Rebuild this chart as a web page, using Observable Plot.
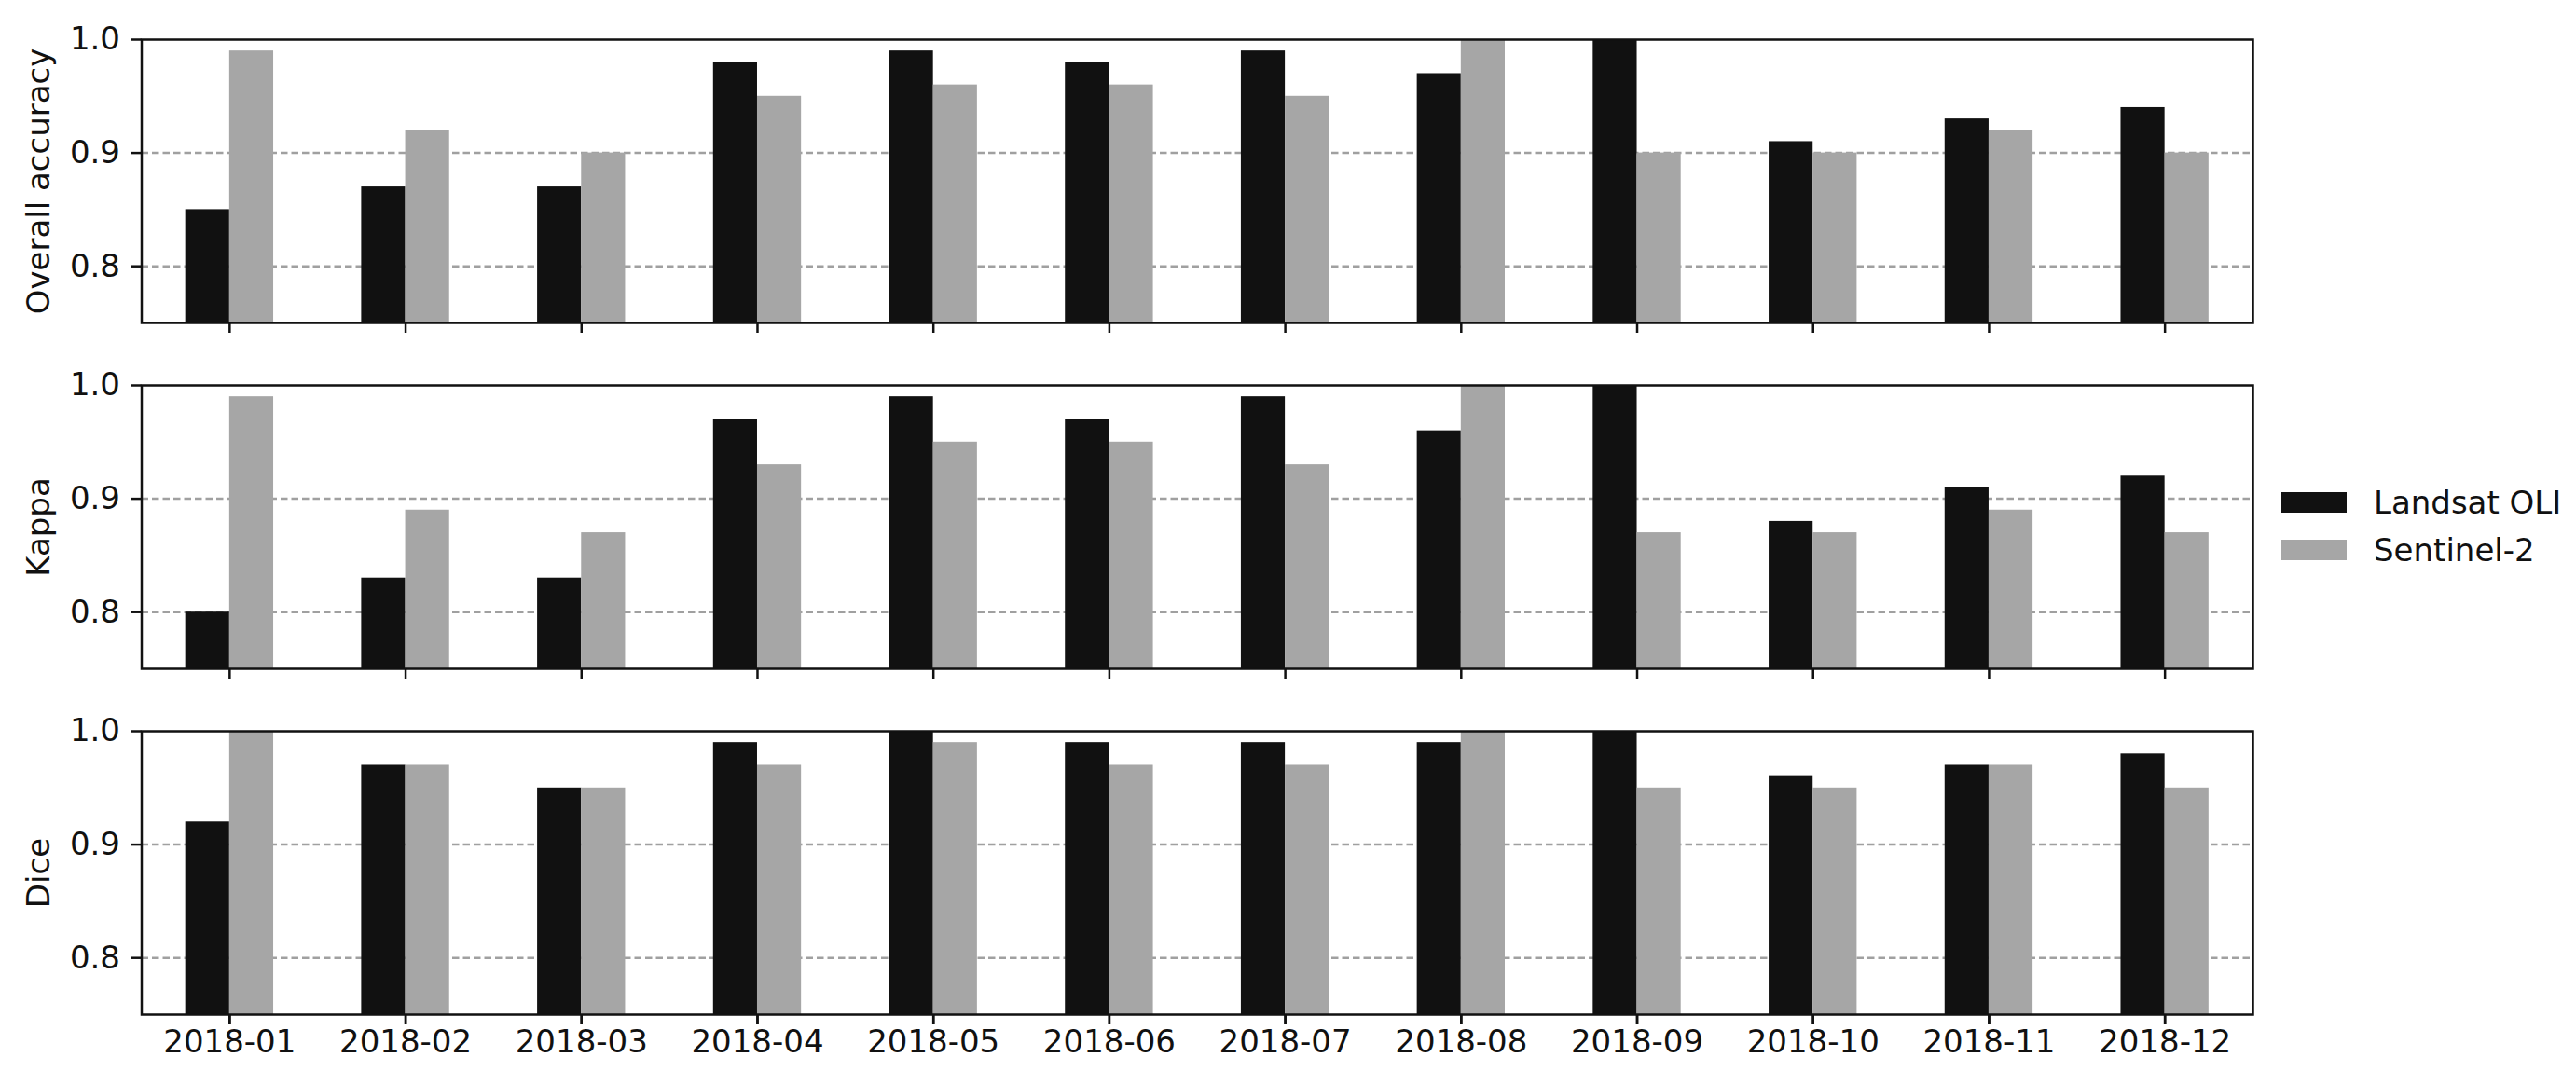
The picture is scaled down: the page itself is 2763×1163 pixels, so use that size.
<!DOCTYPE html>
<html><head><meta charset="utf-8">
<script src="https://cdn.jsdelivr.net/npm/d3@7"></script>
<script src="https://cdn.jsdelivr.net/npm/@observablehq/plot@0.6"></script>
<style>
html,body{margin:0;padding:0;background:#fff;}
#wrap{position:relative;width:2763px;height:1163px;font-family:"DejaVu Sans",sans-serif;}
#legend{position:absolute;left:2447px;top:513px;font-size:34px;color:#111;font-family:"DejaVu Sans",sans-serif;}
.item{display:flex;align-items:center;height:51px;}
.sw{width:70px;height:22px;margin-right:29px;}
</style></head><body>
<div id="wrap"><div id="chart"></div><div id="legend"></div></div>
<script>
const months = ["2018-01","2018-02","2018-03","2018-04","2018-05","2018-06","2018-07","2018-08","2018-09","2018-10","2018-11","2018-12"];
const metrics = ["Overall accuracy","Kappa","Dice"];
const seriesNames = ["Landsat OLI","Sentinel-2"];
const seriesColors = ["#111111","#a6a6a6"];
const overallLandsat  = [0.85,0.87,0.87,0.98,0.99,0.98,0.99,0.97,1.00,0.91,0.93,0.94];
const overallSentinel = [0.99,0.92,0.90,0.95,0.96,0.96,0.95,1.00,0.90,0.90,0.92,0.90];
const kappaLandsat    = [0.80,0.83,0.83,0.97,0.99,0.97,0.99,0.96,1.00,0.88,0.91,0.92];
const kappaSentinel   = [0.99,0.89,0.87,0.93,0.95,0.95,0.93,1.00,0.87,0.87,0.89,0.87];
const diceLandsat     = [0.92,0.97,0.95,0.99,1.00,0.99,0.99,0.99,1.00,0.96,0.97,0.98];
const diceSentinel    = [1.00,0.97,0.95,0.97,0.99,0.97,0.97,1.00,0.95,0.95,0.97,0.95];
const yTicks = [0.8, 0.9, 1.0];
const gridTicks = [0.8, 0.9];
const yDomain = [0.75, 1.0];

const seriesByMetric = {
  "Overall accuracy": [overallLandsat, overallSentinel],
  "Kappa": [kappaLandsat, kappaSentinel],
  "Dice": [diceLandsat, diceSentinel]
};
const rows = [];
for (const m of metrics) {
  seriesByMetric[m].forEach((vals, s) => {
    vals.forEach((v, i) => rows.push({metric: m, i, s, series: seriesNames[s], value: v}));
  });
}
const monthIdx = months.map((_, i) => i);
const barW = 0.25;

const chart = Plot.plot({
  width: 2763,
  height: 1163,
  marginLeft: 151.5,
  marginRight: 347,
  marginTop: 40.5,
  marginBottom: 74,
  style: {fontFamily: "DejaVu Sans, sans-serif", fontSize: "34px", color: "#111", background: "transparent"},
  x: {domain: [-0.5, months.length - 0.5]},
  y: {domain: yDomain},
  fy: {domain: metrics, paddingInner: 0.18, paddingOuter: 0, axis: null, label: null},
  color: {domain: seriesNames, range: seriesColors},
  marks: [
    Plot.gridY({ticks: gridTicks, stroke: "#a0a0a0", strokeOpacity: 1, strokeWidth: 2.5, strokeDasharray: "7.5,4"}),
    Plot.rect(rows, {
      x1: d => d.i - barW + d.s * barW,
      x2: d => d.i + d.s * barW,
      y1: 0,
      y2: "value",
      fy: "metric",
      fill: "series",
      clip: true
    }),
    Plot.frame({stroke: "#111", strokeWidth: 2.5}),
    Plot.axisY({ticks: yTicks, tickSize: 11, tickPadding: 12, tickFormat: d3.format(".1f"), label: null, strokeWidth: 2.5, fontSize: 34}),
    Plot.axisX({ticks: monthIdx, tickFormat: () => "", tickSize: 11, label: null, strokeWidth: 2.5, facetAnchor: null}),
    Plot.axisX({ticks: monthIdx, tickFormat: i => months[i], tickSize: 11, tickPadding: 5, label: null, strokeWidth: 2.5, fontSize: 34}),
    Plot.text(metrics, {fy: d => d, text: d => d, frameAnchor: "left", textAnchor: "middle", lineAnchor: "middle", rotate: -90, dx: -110, fontSize: 34, fill: "#111"})
  ]
});
document.getElementById("chart").appendChild(chart);

const legend = document.getElementById("legend");
seriesNames.forEach((name, k) => {
  const item = document.createElement("div");
  item.className = "item";
  const sw = document.createElement("div");
  sw.className = "sw";
  sw.style.background = seriesColors[k];
  const label = document.createElement("span");
  label.textContent = name;
  item.appendChild(sw);
  item.appendChild(label);
  legend.appendChild(item);
});
</script>
</body></html>
